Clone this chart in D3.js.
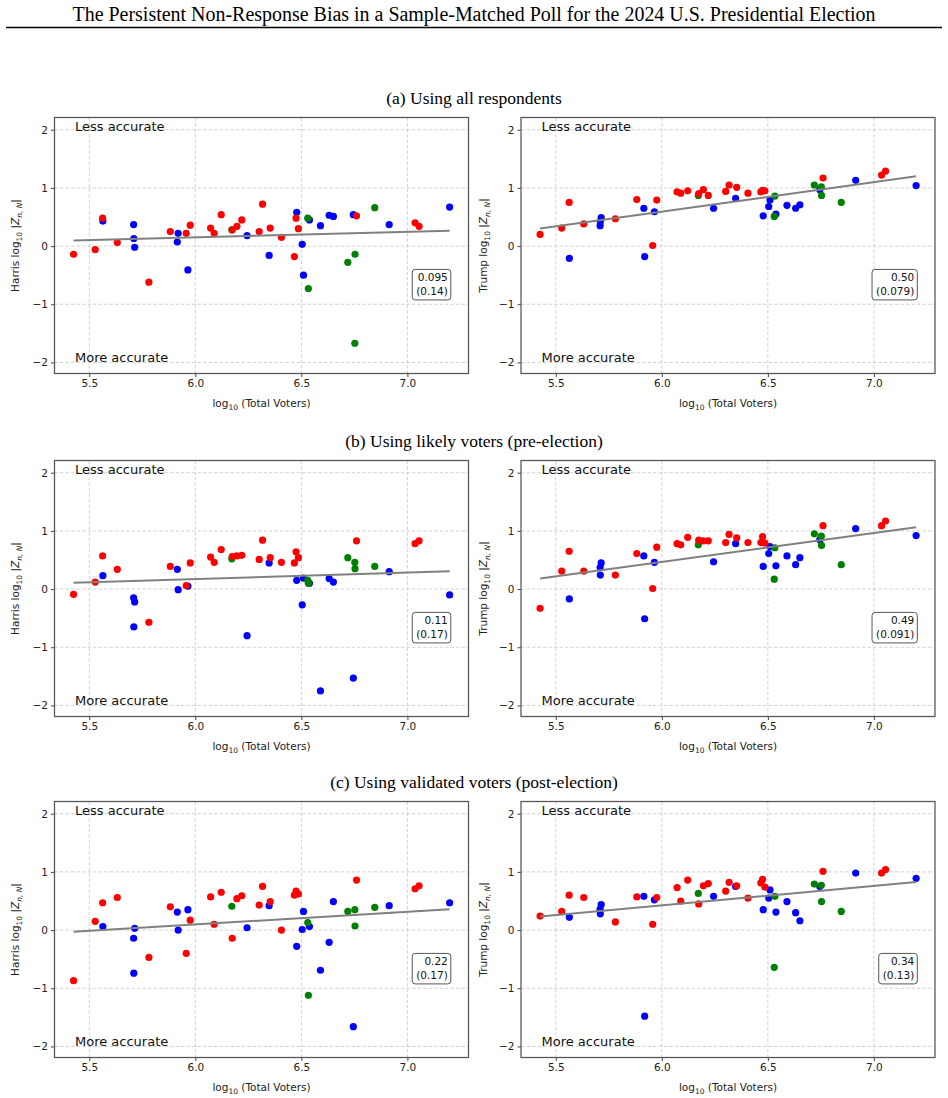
<!DOCTYPE html>
<html>
<head>
<meta charset="utf-8">
<script src="https://cdn.jsdelivr.net/npm/d3@7"></script>
<style>
  body { margin: 0; background: #fff; }
  svg { display: block; }
</style>
</head>
<body>
<div id="chart"></div>
<script>
// states, ordered by size of the electorate
var states = ["WY","AK","ND","VT","SD","DE","RI","HI","MT","WV","ME","NH","ID","NM","NE","AR","MS","KS","NV","UT",
              "OK","IA","CT","LA","KY","OR","AL","SC","MO","IN","MD","TN","CO","MN","WI","AZ","MA","WA","NJ","VA",
              "GA","IL","MI","NC","OH","PA","NY","FL","TX","CA"];
var logVoters = [5.426,5.528,5.563,5.564,5.632,5.709,5.710,5.714,5.781,5.882,5.915,5.919,5.957,5.965,5.976,6.072,6.089,6.122,6.172,6.174,
                 6.196,6.219,6.244,6.301,6.317,6.348,6.353,6.406,6.467,6.475,6.478,6.486,6.504,6.510,6.530,6.533,6.538,6.590,6.631,6.651,
                 6.719,6.745,6.752,6.753,6.760,6.846,6.914,7.036,7.055,7.199];
var party = ["R","R","R","D","R","D","D","D","R","R","D","D","R","D","R","R","R","R","S","R",
             "R","R","D","R","R","D","R","R","R","R","D","R","D","D","S","S","D","D","D","D",
             "S","D","S","S","R","S","D","R","R","D"];

var harrisAll = [-0.14,-0.06,0.48,0.43,0.06,0.37,0.13,-0.02,-0.62,0.25,0.07,0.22,0.22,-0.41,0.36,0.31,0.22,0.54,0.28,0.28,
                 0.34,0.45,0.18,0.25,0.72,-0.16,0.31,0.15,-0.18,0.48,0.58,0.30,0.03,-0.50,0.48,-0.73,0.45,0.35,0.53,0.51,
                 -0.28,0.54,-1.67,-0.14,0.52,0.66,0.37,0.40,0.34,0.67];
var trumpAll = [0.20,0.31,0.75,-0.21,0.38,0.35,0.42,0.49,0.47,0.80,0.65,-0.18,0.01,0.59,0.79,0.93,0.91,0.95,0.87,0.90,
                0.97,0.87,0.65,0.94,1.05,0.82,1.01,0.91,0.93,0.96,0.52,0.95,0.68,0.79,0.51,0.86,0.55,0.70,0.65,0.71,
                1.05,0.97,1.02,0.87,1.17,0.75,1.13,1.22,1.29,1.04];
var harrisLikely = [-0.09,0.12,0.57,0.23,0.34,-0.15,-0.65,-0.22,-0.57,0.39,0.34,-0.01,0.06,0.05,0.45,0.55,0.46,0.68,0.52,0.56,
                    0.57,0.58,-0.80,0.51,0.84,0.45,0.54,0.46,0.45,0.64,0.15,0.54,-0.27,0.19,0.15,0.10,0.10,-1.75,0.18,0.12,
                    0.54,-1.53,0.46,0.35,0.83,0.39,0.30,0.78,0.83,-0.10];
var trumpLikely = [-0.33,0.31,0.65,-0.17,0.31,0.37,0.24,0.45,0.24,0.61,0.57,-0.51,0.01,0.46,0.72,0.78,0.76,0.89,0.76,0.84,
                   0.83,0.83,0.47,0.80,0.94,0.78,0.88,0.80,0.80,0.90,0.39,0.79,0.61,0.73,0.17,0.71,0.40,0.57,0.42,0.54,
                   0.95,0.85,0.91,0.75,1.09,0.42,1.04,1.09,1.17,0.92];
var harrisValidated = [-0.87,0.15,0.47,0.06,0.56,-0.14,-0.74,0.03,-0.47,0.40,0.31,0.00,-0.40,0.35,0.17,0.57,0.10,0.65,0.41,-0.14,
                       0.54,0.59,0.04,0.43,0.75,0.42,0.49,0.00,0.60,0.67,-0.28,0.62,0.01,0.32,0.13,-1.12,0.06,-0.69,-0.21,0.49,
                       0.32,-1.66,0.35,0.07,0.86,0.39,0.42,0.71,0.76,0.47];
var trumpValidated = [0.24,0.32,0.60,0.22,0.56,0.36,0.28,0.44,0.14,0.57,0.58,-1.48,0.10,0.52,0.56,0.73,0.50,0.86,0.63,0.45,
                      0.76,0.80,0.58,0.67,0.82,0.75,0.76,0.55,0.81,0.87,0.35,0.74,0.55,0.69,-0.64,0.58,0.31,0.49,0.30,0.16,
                      0.79,0.75,0.77,0.49,1.01,0.32,0.98,0.98,1.04,0.89];

// printed slope and standard error for each panel
var slopes = [0.095, 0.50, 0.11, 0.49, 0.22, 0.34];
var slopeSE = [0.14, 0.079, 0.17, 0.091, 0.17, 0.13];

var panelTitles = ["(a) Using all respondents", "(b) Using likely voters (pre-election)", "(c) Using validated voters (post-election)"];
var candidates = ["Harris", "Trump"];
var xTicks = [5.5, 6.0, 6.5, 7.0];
var yTicks = [-2, -1, 0, 1, 2];

function draw_chart() {
  var W = 948, H = 1098;
  var partyColor = {R: "#ff0000", D: "#0000ff", S: "#008000"};
  var rows = [[harrisAll, trumpAll], [harrisLikely, trumpLikely], [harrisValidated, trumpValidated]];

  var colLeft = [54.5, 521], pw = 414;
  var rowTop = [117.5, 460.5, 801.5], ph = 256;
  var serif = "'Liberation Serif', 'Times New Roman', serif";

  var svg = d3.select("#chart").append("svg")
    .attr("width", W).attr("height", H)
    .style("font-family", "'DejaVu Sans', sans-serif");

  svg.append("text")
    .attr("x", 474).attr("y", 20.5)
    .attr("text-anchor", "middle")
    .attr("textLength", 803).attr("lengthAdjust", "spacingAndGlyphs")
    .style("font-family", serif)
    .style("font-size", "20px")
    .text("The Persistent Non-Response Bias in a Sample-Matched Poll for the 2024 U.S. Presidential Election");
  svg.append("line")
    .attr("x1", 6).attr("x2", 942).attr("y1", 27.5).attr("y2", 27.5)
    .attr("stroke", "#000").attr("stroke-width", 1.3);

  var x = d3.scaleLinear().domain([5.336, 7.288]).range([0, pw]);
  var y = d3.scaleLinear().domain([-2.19, 2.21]).range([ph, 0]);

  rows.forEach(function(pair, r) {
    svg.append("text")
      .attr("x", 474).attr("y", rowTop[r] - 13.5)
      .attr("text-anchor", "middle")
      .style("font-family", serif)
      .style("font-size", "17.5px")
      .text(panelTitles[r]);

    pair.forEach(function(vals, c) {
      var k = r * 2 + c;
      var g = svg.append("g").attr("transform", "translate(" + colLeft[c] + "," + rowTop[r] + ")");

      // dashed grid
      g.selectAll(".gx").data(xTicks).enter().append("line")
        .attr("x1", d => x(d)).attr("x2", d => x(d)).attr("y1", 0).attr("y2", ph)
        .attr("stroke", "#c8c8c8").attr("stroke-width", 0.8).attr("stroke-dasharray", "3.5,2");
      g.selectAll(".gy").data(yTicks).enter().append("line")
        .attr("x1", 0).attr("x2", pw).attr("y1", d => y(d)).attr("y2", d => y(d))
        .attr("stroke", "#c8c8c8").attr("stroke-width", 0.8).attr("stroke-dasharray", "3.5,2");

      var pts = logVoters.map(function(v, i) { return {x: v, y: vals[i], p: party[i], s: states[i]}; });
      // blue states first, as in the original drawing order
      var order = {D: 0, S: 1, R: 2};
      g.selectAll("circle").data(pts.slice().sort((m, n) => order[m.p] - order[n.p])).enter().append("circle")
        .attr("cx", d => x(d.x)).attr("cy", d => y(d.y)).attr("r", 3.6)
        .attr("fill", d => partyColor[d.p]);

      // least squares fit
      var mx = d3.mean(pts, d => d.x), my = d3.mean(pts, d => d.y);
      var b = d3.sum(pts, d => (d.x - mx) * (d.y - my)) / d3.sum(pts, d => (d.x - mx) * (d.x - mx));
      var a = my - b * mx;
      var x0 = d3.min(logVoters), x1 = d3.max(logVoters);
      g.append("line")
        .attr("x1", x(x0)).attr("y1", y(a + b * x0))
        .attr("x2", x(x1)).attr("y2", y(a + b * x1))
        .attr("stroke", "#808080").attr("stroke-width", 2);

      // axes
      var xa = g.append("g").attr("transform", "translate(0," + ph + ")")
        .call(d3.axisBottom(x).tickValues(xTicks).tickFormat(d3.format(".1f")).tickSize(3.5).tickPadding(3));
      var ya = g.append("g")
        .call(d3.axisLeft(y).tickValues(yTicks).tickFormat(d3.format("d")).tickSize(3.5).tickPadding(3));
      [xa, ya].forEach(function(ax) {
        ax.select(".domain").remove();
        ax.selectAll("line").attr("stroke", "#444");
        ax.selectAll("text").style("font-family", "'DejaVu Sans', sans-serif").style("font-size", "10.5px").attr("fill", "#222");
      });
      g.append("rect").attr("width", pw).attr("height", ph)
        .attr("fill", "none").attr("stroke", "#555").attr("stroke-width", 1.25);

      g.append("text").attr("x", 20.5).attr("y", 13.5)
        .style("font-size", "13px").attr("fill", "#111").text("Less accurate");
      g.append("text").attr("x", 20.5).attr("y", ph - 12)
        .style("font-size", "13px").attr("fill", "#111").text("More accurate");

      // slope box
      var fmt = d3.format(".2r");
      var bx = g.append("g").attr("transform", "translate(" + (pw * 0.95) + "," + (ph * 0.652) + ")");
      var t1 = bx.append("text").attr("x", 0).attr("y", -3)
        .attr("text-anchor", "end").style("font-size", "10.5px").attr("fill", "#111").text(fmt(slopes[k]));
      var t2 = bx.append("text").attr("x", 0).attr("y", 10.5)
        .attr("text-anchor", "end").style("font-size", "10.5px").attr("fill", "#111").text("(" + fmt(slopeSE[k]) + ")");
      var bw = Math.max(t1.node().getComputedTextLength(), t2.node().getComputedTextLength());
      bx.insert("rect", "text")
        .attr("x", -bw - 4).attr("y", -15).attr("width", bw + 7).attr("height", 30.5)
        .attr("rx", 3).attr("fill", "#fff").attr("stroke", "#555").attr("stroke-width", 1);

      // axis labels
      var xl = g.append("text").attr("x", pw / 2).attr("y", ph + 33)
        .attr("text-anchor", "middle").style("font-size", "10.5px").attr("fill", "#222");
      xl.append("tspan").text("log");
      xl.append("tspan").attr("dy", 3).style("font-size", "7.5px").text("10");
      xl.append("tspan").attr("dy", -3).text(" (Total Voters)");

      var yl = g.append("text")
        .attr("transform", "translate(" + (c === 0 ? -35.5 : -34.5) + "," + (ph / 2) + ") rotate(-90)")
        .attr("text-anchor", "middle").style("font-size", "10.5px").attr("fill", "#222");
      yl.append("tspan").text(candidates[c] + " log");
      yl.append("tspan").attr("dy", 3).style("font-size", "7.5px").text("10");
      yl.append("tspan").attr("dy", -3).text(" |");
      yl.append("tspan").style("font-style", "italic").text("Z");
      yl.append("tspan").attr("dy", 3).style("font-size", "7.5px").style("font-style", "italic").text("n, N");
      yl.append("tspan").attr("dy", -3).text("|");
    });
  });
}

draw_chart();
</script>
</body>
</html>
